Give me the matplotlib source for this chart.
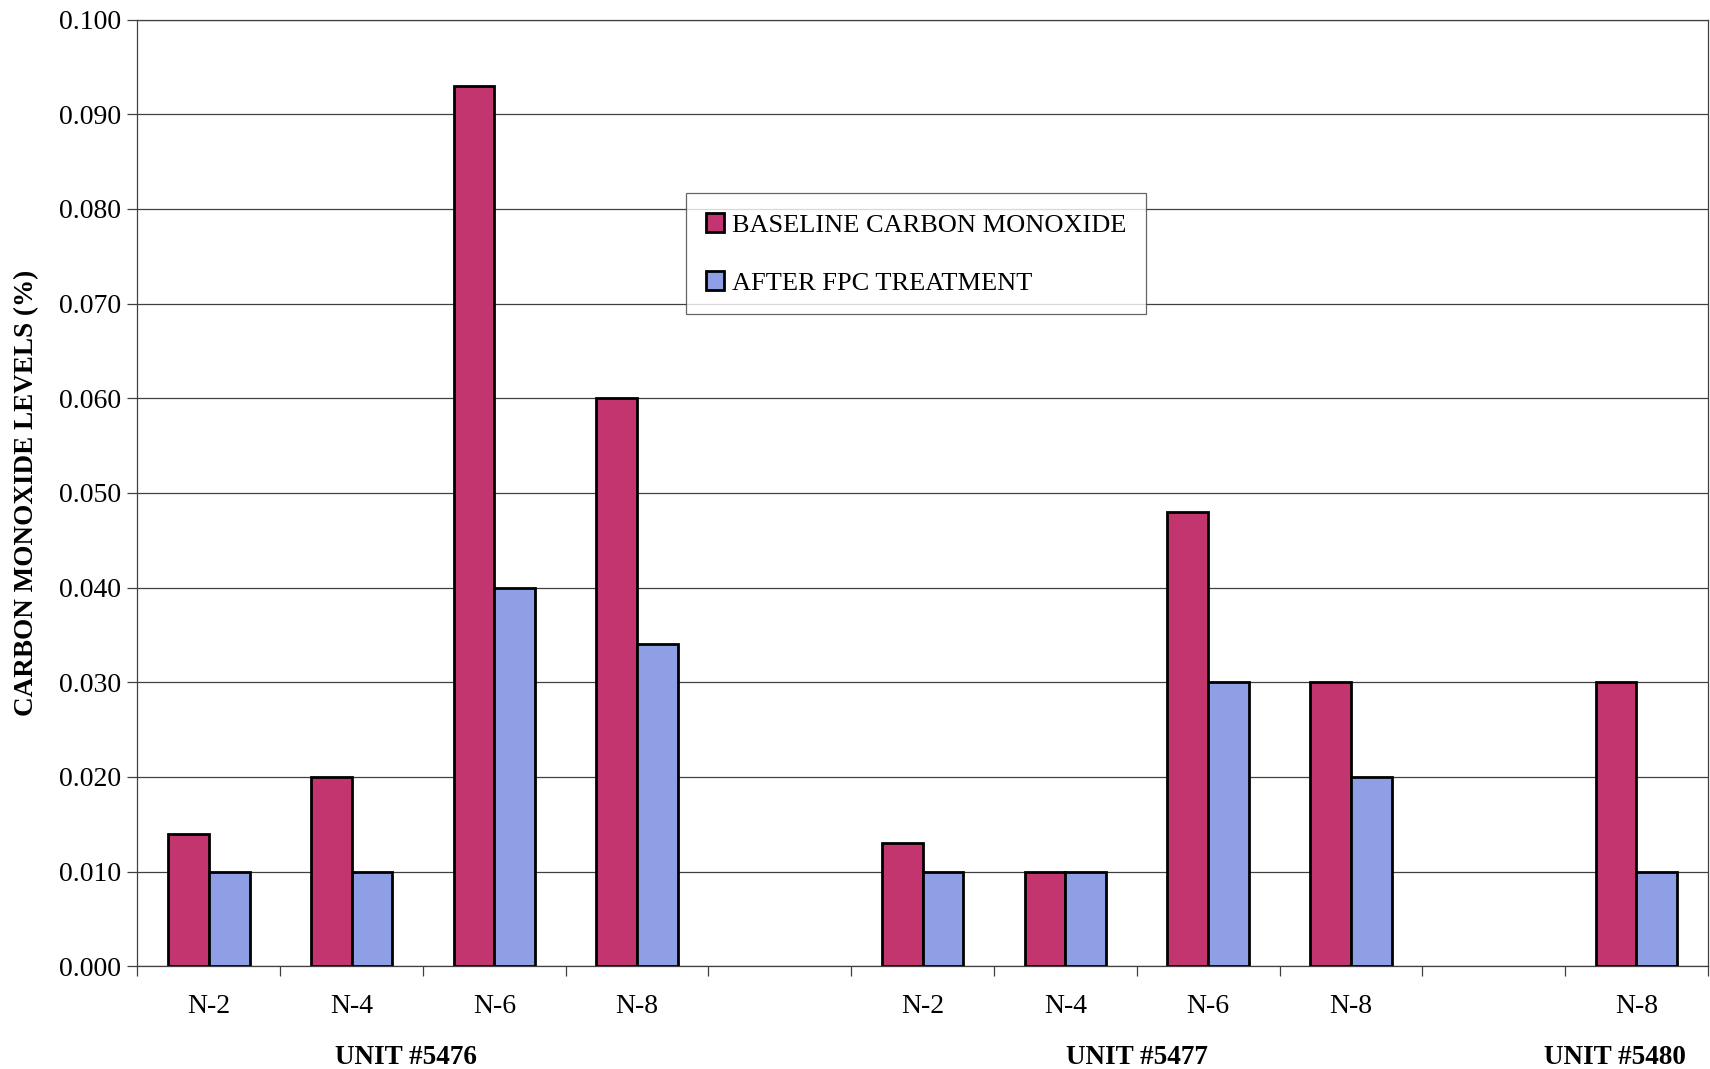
import matplotlib
matplotlib.use("Agg")
import matplotlib.pyplot as plt
import numpy as np

plt.rcParams['font.family'] = ['Liberation Serif', 'DejaVu Serif']

# slots on the x axis (empty strings are the gaps between units)
slot_labels = ["N-2", "N-4", "N-6", "N-8", "", "N-2", "N-4", "N-6", "N-8", "", "N-8"]
baseline_co = [0.014, 0.020, 0.093, 0.060, np.nan, 0.013, 0.010, 0.048, 0.030, np.nan, 0.030]
after_fpc = [0.010, 0.010, 0.040, 0.034, np.nan, 0.010, 0.010, 0.030, 0.020, np.nan, 0.010]
unit_names = ["UNIT #5476", "UNIT #5477", "UNIT #5480"]
unit_pos = [1.38, 6.5, 9.85]

c_base = "#C2356E"
c_after = "#8E9FE6"

fig = plt.figure(figsize=(17.1, 10.69), dpi=100)
ax = fig.add_axes([0.0804, 0.0962, 0.9183, 0.8854])

x = np.arange(len(slot_labels))
keep = ~np.isnan(np.array(baseline_co))
w = 1 / 3.5
ax.bar(x[keep] - w / 2, np.array(baseline_co)[keep], w, color=c_base,
       edgecolor="black", linewidth=2.0, zorder=3, label="BASELINE CARBON MONOXIDE")
ax.bar(x[keep] + w / 2, np.array(after_fpc)[keep], w, color=c_after,
       edgecolor="black", linewidth=2.0, zorder=3, label="AFTER FPC TREATMENT")

ax.set_xlim(-0.5, len(slot_labels) - 0.5)
ax.set_ylim(0, 0.100)
ax.set_yticks(np.arange(0, 0.1001, 0.010))
ax.set_yticklabels(["%.3f" % v for v in np.arange(0, 0.1001, 0.010)], fontsize=20)
ax.yaxis.grid(True, color="#404040", linewidth=0.9, zorder=0)

# ticks at the slot edges, labels at the centres
ax.set_xticks(np.arange(-0.5, len(slot_labels), 1.0))
ax.set_xticklabels([])
ax.set_xticks(x, minor=True)
ax.set_xticklabels(slot_labels, minor=True, fontsize=20)
ax.tick_params(axis="x", which="major", length=7, width=0.9, color="#404040")
ax.tick_params(axis="x", which="minor", length=0, pad=20)
ax.tick_params(axis="y", length=7, width=0.9, color="#404040", pad=5)

for s in ax.spines.values():
    s.set_color("#404040")
    s.set_linewidth(0.9)

for name, pos in zip(unit_names, unit_pos):
    ax.text(pos, -0.096, name, transform=ax.get_xaxis_transform(), ha="center",
            va="center", fontsize=19.5, fontweight="bold")

fig.text(0.0153, 0.539, "CARBON MONOXIDE LEVELS (%)", rotation=90, ha="center",
         va="center", fontsize=19.5, fontweight="bold")

leg = ax.legend(loc="upper left", bbox_to_anchor=(0.401, 0.819),
                bbox_transform=fig.transFigure, fontsize=19, frameon=True,
                fancybox=False, edgecolor="#404040", handlelength=0.7,
                handleheight=0.7, handletextpad=0.3, labelspacing=1.3,
                borderpad=0.75, borderaxespad=0)
leg.get_frame().set_linewidth(0.9)

fig.savefig("out.png", dpi=100)
